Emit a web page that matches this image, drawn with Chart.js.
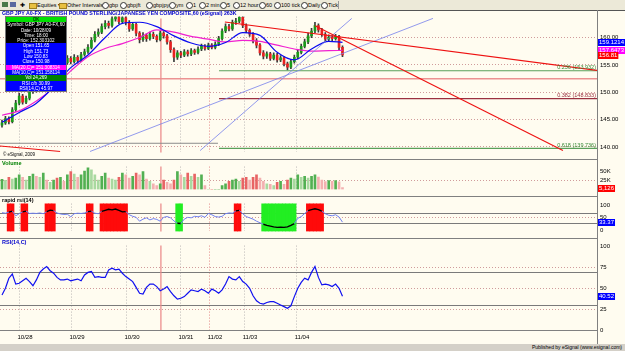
<!DOCTYPE html>
<html>
<head>
<meta charset="utf-8">
<script src="https://cdn.jsdelivr.net/npm/chart.js@4.4.0/dist/chart.umd.min.js"></script>
<style>
body{margin:0;width:625px;height:351px;overflow:hidden;background:#fffcf0;font-family:Arial,"Liberation Sans",sans-serif;position:relative}
canvas{position:absolute;left:0}
.abs{position:absolute;white-space:nowrap}
.sep{position:absolute;background:#808080;z-index:5}
#toolbar{left:0;top:0;width:625px;height:10px;background:#ece9d8;font-size:5.5px;line-height:10px;color:#000}
.ic{position:absolute;top:2px;width:5px;height:5px;border:1px solid #333;border-radius:50%;background:#fff}
.fd{position:absolute;top:2.5px;width:6px;height:4.5px;background:#e8c040;border:0.5px solid #a08020}
#info{left:5px;top:16px;width:60px;border:1px solid #777;z-index:6}
#info div{height:5.3px;line-height:5.3px;font-size:4.6px;text-align:center;color:#fff}
.lbl{font-size:5.5px;z-index:6}
</style>
</head>
<body>
<div id="toolbar" class="abs">
  <span class="abs" style="left:2px;top:2px;width:6px;height:5px;background:#4a7a4a"></span>
  <span class="abs" style="left:10px;top:2px;width:6px;height:5px;background:#5a6aa0"></span>
  <span class="abs" style="left:20px;">✚</span>
  <span class="fd" style="left:29px"></span><span class="abs" style="left:37px;">Equities ▾</span>
  <span class="fd" style="left:59px"></span><span class="abs" style="left:67px;">Other Intervals ▾</span>
  <span class="ic" style="left:102px"></span><span class="abs" style="left:109px;">gbp</span>
  <span class="ic" style="left:120px"></span><span class="abs" style="left:127px;">gbpjft</span>
  <span class="ic" style="left:146px"></span><span class="abs" style="left:153px;">gbpjpy</span>
  <span class="ic" style="left:169px"></span><span class="abs" style="left:176px;">ym</span>
  <span class="ic" style="left:186px"></span><span class="abs" style="left:193px;">1</span>
  <span class="ic" style="left:199px"></span><span class="abs" style="left:206px;">2 min</span>
  <span class="ic" style="left:220px"></span><span class="abs" style="left:227px;">5</span>
  <span class="ic" style="left:233px"></span><span class="abs" style="left:240px;">12 hour</span>
  <span class="ic" style="left:259px"></span><span class="abs" style="left:266px;">60</span>
  <span class="ic" style="left:274px"></span><span class="abs" style="left:281px;">100 tick</span>
  <span class="ic" style="left:301px"></span><span class="abs" style="left:308px;">Daily</span>
  <span class="ic" style="left:321px"></span><span class="abs" style="left:328px;">Tick</span>
  <span class="abs" style="left:338px;top:1px;width:1px;height:8px;background:#999"></span>
</div>

<canvas id="cPrice" width="625" height="149" style="top:10px"></canvas>
<canvas id="cVol" width="625" height="36" style="top:160px"></canvas>
<canvas id="cRapid" width="625" height="41" style="top:197px"></canvas>
<canvas id="cRsi" width="625" height="105" style="top:239px"></canvas>

<div class="sep" style="left:0;top:10px;width:625px;height:1px;background:#555"></div>
<div class="sep" style="left:0;top:159px;width:597px;height:1px"></div>
<div class="sep" style="left:0;top:196px;width:597px;height:1px"></div>
<div class="sep" style="left:0;top:238px;width:597px;height:1px"></div>
<div class="sep" style="left:0;top:330px;width:597px;height:1px"></div>
<div class="sep" style="left:597px;top:10px;width:1px;height:334px"></div>
<div class="abs" style="left:0;top:344px;width:625px;height:7px;background:#d4d0c8;z-index:5"></div>
<div class="abs" style="right:3px;top:344px;font-size:5px;line-height:7px;z-index:6">Published by eSignal (www.esignal.com)</div>

<div class="abs lbl" style="left:2px;top:10px;color:#0000cc;font-weight:bold;font-size:5.3px">GBP JPY A0-FX - BRITISH POUND STERLING/JAPANESE YEN COMPOSITE,60 (eSignal) 263K</div>
<div class="abs lbl" style="left:3px;top:152px;font-size:4.5px">© eSignal, 2009</div>
<div class="abs lbl" style="left:2px;top:160px;color:#008000;font-weight:bold">Volume</div>
<div class="abs lbl" style="left:2px;top:197px;color:#000;font-weight:bold">rapid rsi(14)</div>
<div class="abs lbl" style="left:2px;top:239px;color:#0000cc;font-weight:bold">RSI(14,C)</div>

<div id="info" class="abs">
  <div style="background:#00e000;color:#000">OK</div>
  <div style="background:#000">Symbol: GBP JPY A0-FX,60</div>
  <div style="background:#000">Date: 10/28/09</div>
  <div style="background:#000">Time: 18:00</div>
  <div style="background:#000">Price: 152.303102</div>
  <div style="background:#0000ff">Open 151.65</div>
  <div style="background:#0000ff">High 151.73</div>
  <div style="background:#0000ff">Low 150.83</div>
  <div style="background:#0000ff">Close 150.98</div>
  <div style="background:#ff00ff">MA(20,C)= 151.308314</div>
  <div style="background:#0000ff">MA(10,C)= 151.158114</div>
  <div style="background:#008000">Vol 24,269</div>
  <div style="background:#0000ff">RSI c/b 30.99</div>
  <div style="background:#0000ff">RSI(14,C) 45.97</div>
</div>

<script>
// hourly-ish bars, index 0..99 ; empty space to the right up to xMax
const opens = [144.0,144.4,145.2,144.6,146.8,148.0,149.3,148.2,148.9,150.1,
  151.0,150.4,152.6,153.4,153.0,154.3,155.0,154.6,156.0,155.4,
  156.2,155.6,156.4,155.8,156.9,157.4,158.2,159.5,160.6,161.0,
  162.0,162.6,162.2,163.4,163.8,162.9,163.6,162.8,161.6,162.4,
  160.8,159.6,160.4,159.8,160.6,160.2,159.6,160.8,160.3,159.2,
  157.8,156.4,157.2,156.8,157.4,157.0,157.6,157.3,157.9,158.4,
  158.0,158.6,158.2,158.8,159.8,161.2,162.0,161.6,162.8,163.0,
  163.7,162.2,161.3,160.6,159.4,158.6,157.2,156.6,157.0,156.2,
  156.8,155.9,156.3,155.2,154.6,155.6,156.4,157.3,158.4,159.2,
  160.3,161.2,162.2,161.4,160.6,159.7,160.1,159.8,160.2,158.2];
const closes = [144.4,145.2,144.6,146.8,148.0,149.3,148.2,148.9,150.1,151.0,
  150.4,152.6,153.4,153.0,154.3,155.0,154.6,156.0,155.4,156.2,
  155.6,156.4,155.8,156.9,157.4,158.2,159.5,160.6,161.0,162.0,
  162.6,162.2,163.4,163.8,162.9,163.6,162.8,161.6,162.4,160.8,
  159.6,160.4,159.8,160.6,160.2,159.6,160.8,160.3,159.2,157.8,
  156.4,157.2,156.8,157.4,157.0,157.6,157.3,157.9,158.4,158.0,
  158.6,158.2,158.8,159.8,161.2,162.0,161.6,162.8,163.0,163.7,
  162.2,161.3,160.6,159.4,158.6,157.2,156.6,157.0,156.2,156.8,
  155.9,156.3,155.2,154.6,155.6,156.4,157.3,158.4,159.2,160.3,
  161.2,162.2,161.4,160.6,159.7,160.1,159.8,160.2,158.2,156.81];
const highs = [144.9,145.6,145.5,147.2,148.5,149.8,149.6,149.3,150.5,151.5,
  151.3,153.0,153.9,153.8,154.7,155.5,155.3,156.4,156.3,156.7,
  156.5,156.9,156.7,157.3,157.9,158.7,160.0,161.1,161.6,162.5,
  163.1,163.0,163.9,164.4,164.1,164.0,163.9,163.1,162.8,162.6,
  161.1,160.9,160.7,161.0,161.0,160.5,161.2,161.1,160.6,159.5,
  158.1,157.6,157.5,157.8,157.7,158.0,157.9,158.3,158.8,158.7,
  159.0,158.9,159.2,160.2,161.6,162.5,162.4,163.2,163.5,164.3,
  164.0,162.5,161.6,160.9,159.8,158.9,157.6,157.4,157.3,157.2,
  157.1,156.7,156.5,155.5,156.0,156.8,157.7,158.8,159.7,160.8,
  161.7,162.8,162.5,161.7,160.9,160.5,160.4,160.6,160.4,158.5];
const lows = [143.6,144.1,144.2,144.4,146.5,147.7,147.8,147.9,148.6,149.8,
  150.0,150.2,152.3,152.6,152.8,154.0,154.1,154.4,154.9,155.1,
  155.2,155.3,155.3,155.6,156.6,157.1,157.9,159.2,160.2,160.7,
  161.6,161.7,161.9,163.0,162.5,162.6,162.3,161.1,161.3,160.3,
  159.0,159.3,159.3,159.5,159.8,159.2,159.4,159.9,158.8,157.3,
  155.6,156.0,156.3,156.5,156.6,156.7,156.9,157.0,157.6,157.7,
  157.8,157.9,157.9,158.5,159.5,160.9,161.2,161.3,162.4,162.7,
  161.8,160.9,160.2,159.0,158.1,156.8,156.1,156.2,155.8,155.9,
  155.5,155.6,154.8,154.1,154.3,155.3,156.1,157.0,158.1,158.9,
  160.0,160.9,161.0,160.2,159.3,159.4,159.4,159.5,157.8,156.5];

// moving averages read at every 5th bar
const maIdx = [0,5,10,15,20,25,30,35,40,45,50,55,60,65,70,75,80,85,90,95,99];
const maFast = [144.5,146.3,148.0,151.0,154.5,156.8,160.0,162.6,162.8,162.0,160.3,159.0,158.4,159.1,160.9,160.4,157.3,155.9,157.9,159.3,159.1214];
const maSlow = [145.8,146.6,148.4,150.8,153.9,156.5,158.0,158.9,160.0,161.4,161.0,160.2,159.7,159.2,159.5,159.3,158.6,157.9,157.5,157.6,157.6473];

const volumes = [28600,25600,34000,29000,32000,41000,34000,26000,37000,43000,
  37000,34000,46000,26000,20000,26000,32000,34000,23000,41000,
  50000,43000,34000,41000,52000,61000,55000,41000,26000,37000,
  46000,32000,29000,26000,34000,46000,41000,32000,37000,46000,
  41000,50000,29000,23000,16000,11000,16000,26000,20000,16000,
  26000,50000,41000,34000,46000,37000,43000,34000,41000,11000,
  0,0,0,0,11000,16000,23000,26000,29000,23000,
  32000,34000,26000,34000,41000,32000,23000,16000,14000,11000,
  20000,23000,14000,26000,32000,29000,41000,34000,37000,32000,
  37000,41000,35000,26000,22000,25000,23000,25000,21000,5126];

const rapidRsi = [70,68,72,76,58,66,73,76,67,68,
  67,69,66,74,80,78,69,65,63,64,
  54,66,68,67,69,74,76,68,66,75,
  79,83,81,84,79,73,74,62,56,52,
  37,45,50,42,47,44,37,52,55,50,
  38,29,28,45,52,50,56,54,58,52,
  67,62,55,53,56,66,69,68,77,79,
  66,55,50,45,37,31,25,21,18,15,
  13,14,13,15,21,28,48,55,67,78,
  82,85,82,76,66,60,58,62,53,33.37];

const rsi = [42,50,62,67,55,56,59,62,58,53,
  60,69,73,76,71,68,63,60,60,61,
  59,60,61,59,66,69,70,63,64,63,
  63,72,74,72,73,68,64,61,58,51,
  44,43,51,55,55,52,47,49,52,46,
  41,37,38,40,44,48,47,46,49,47,
  44,49,47,44,48,55,64,61,60,64,
  58,55,50,41,35,32,31,33,34,34,
  32,30,28,26,29,40,50,57,62,60,
  69,76,63,54,55,54,52,55,50,40.52];

const dateLabels = ['10/28','10/29','10/30','10/31','11/02','11/03','11/04'];
const dateIdx = [5.23, 20.35, 36.34, 52.03, 60.47, 70.64, 85.76];
const cursorIdx = 46.2;

const priceTicks = [140, 145, 150, 155, 160];
const volTicks = [25000, 50000];
const rapidTicks = [0, 50, 100];
const rsiTicks = [0, 25, 50, 75, 100];
const bandLevels = [30, 70];

// drawn studies on the price pane: [startIdx, startPrice, endIdx, endPrice]
const redTrends = [[64.8, 162.83, 173, 154.0], [91.0, 162.17, 163.1, 139.33]];
const blueTrends = [[57.6, 139.33, 101.7, 163.5], [25.6, 139.17, 125.3, 163.5]];
const fibRatios = ['0.236', '0.382', '0.618'];
const fibPrices = [153.932, 148.833, 139.736];
const fibStart = 63.1;
const hLineRed = 152.45;
const hLineGray = [-0.58, 140.67, 62.8, 140.67];
const redStub = [-0.58, 140.17, 16.9, 139.17];

const xMin = -0.58, xMax = 173.0;

Chart.defaults.font.family = 'Arial, "Liberation Sans", sans-serif';
Chart.defaults.font.size = 6;
Chart.defaults.color = '#000';
Chart.defaults.animation = false;

const overlay = {
  id: 'overlay',
  beforeDatasetsDraw(chart, args, opts) {
    const { ctx, chartArea: a, scales: { x, y } } = chart;
    ctx.save();
    (opts.bands || []).forEach(b => {
      const py = Math.round(y.getPixelForValue(b)) + 0.5;
      ctx.strokeStyle = '#7a7a7a';
      ctx.lineWidth = 1.2;
      ctx.beginPath(); ctx.moveTo(a.left, py); ctx.lineTo(a.right, py); ctx.stroke();
    });
    const cx = x.getPixelForValue(cursorIdx);
    ctx.strokeStyle = 'rgba(236,140,140,0.85)';
    ctx.lineWidth = 1.5;
    ctx.beginPath(); ctx.moveTo(cx, a.top + (opts.cursorTop || 0)); ctx.lineTo(cx, a.bottom); ctx.stroke();
    ctx.restore();
  },
  afterDatasetsDraw(chart, args, opts) {
    const { ctx, chartArea: a, scales: { y } } = chart;
    ctx.save();
    ctx.font = '5.5px Arial, "Liberation Sans", sans-serif';
    ctx.textBaseline = 'middle';
    (opts.notes || []).forEach(n => {
      ctx.fillStyle = n.color;
      ctx.textAlign = 'right';
      ctx.fillText(n.text, a.right - 1, y.getPixelForValue(n.v) - 3);
    });
    ctx.font = '6px Arial, "Liberation Sans", sans-serif';
    (opts.tags || []).forEach(t => {
      const py = Math.round(y.getPixelForValue(t.v));
      const w = ctx.measureText(t.text).width + 2;
      ctx.fillStyle = t.bg;
      ctx.fillRect(a.right + 1, py - 3, w, 7);
      ctx.fillStyle = t.fg || '#fff';
      ctx.textAlign = 'left';
      ctx.fillText(t.text, a.right + 2, py + 0.5);
    });
    ctx.restore();
  }
};

function xAxis(showLabels) {
  return {
    type: 'linear', min: xMin, max: xMax, offset: false,
    afterBuildTicks: s => { s.ticks = dateIdx.map(v => ({ value: v })); },
    afterFit: s => { s.height = showLabels ? 14 : 0; },
    ticks: { display: showLabels, autoSkip: false, maxRotation: 0, padding: 4, labelOffset: 5,
      callback: (v, i) => dateLabels[i], font: { size: 6 }, color: '#000' },
    grid: { drawTicks: false, offset: false,
      color: c => c.index === 4 ? 'rgba(225,130,130,0.95)' : 'rgba(175,170,170,0.85)' },
    border: { display: false, dash: [1, 2] }
  };
}

function yAxis(min, max, ticks, fmt, gridAt) {
  return {
    position: 'right', min, max,
    afterBuildTicks: s => { s.ticks = ticks.map(v => ({ value: v })); },
    afterFit: s => { s.width = 28; },
    ticks: { callback: fmt, padding: 3, font: { size: 6 }, color: '#000' },
    grid: { drawTicks: false,
      color: c => (gridAt.includes(c.tick.value) ? 'rgba(205,150,150,0.95)' : 'rgba(0,0,0,0)') },
    border: { display: false, dash: [1, 2] }
  };
}

const baseOpts = {
  responsive: false,
  maintainAspectRatio: false,
  layout: { padding: 0 },
  events: [],
  plugins: { legend: { display: false }, tooltip: { enabled: false } }
};

function seg(s, color, width) {
  return { type: 'line', data: [{ x: s[0], y: s[1] }, { x: s[2], y: s[3] }], borderColor: color,
    borderWidth: width, pointRadius: 0, order: 0 };
}

// ---- price pane ----
const wicks = closes.map((c, i) => ({ x: i, y: [lows[i], highs[i]] }));
const bodies = closes.map((c, i) => ({ x: i, y: [Math.min(opens[i], c), Math.max(opens[i], c)] }));
const bodyColors = closes.map((c, i) => c >= opens[i] ? '#1a9a1a' : '#e82020');
const maPts = arr => arr.map((v, k) => ({ x: maIdx[k], y: v }));

const priceSets = [
  ...redTrends.map(s => seg(s, '#ee1111', 1.1)),
  ...blueTrends.map(s => seg(s, 'rgba(120,130,235,0.9)', 0.9)),
  seg([xMin, hLineRed, xMax, hLineRed], 'rgba(235,140,140,0.95)', 1.5),
  seg(hLineGray, '#8c8c8c', 1),
  seg(redStub, '#ee1111', 1),
  ...fibPrices.map((p, k) => seg([fibStart, p, xMax, p], k === 1 ? '#9a3040' : '#5aa05a', 1.2)),
  { type: 'line', data: maPts(maFast), borderColor: '#0a0af0', borderWidth: 1.2, pointRadius: 0,
    cubicInterpolationMode: 'monotone', order: 1 },
  { type: 'line', data: maPts(maSlow), borderColor: '#f020d0', borderWidth: 1.2, pointRadius: 0,
    cubicInterpolationMode: 'monotone', order: 1 },
  { type: 'bar', data: bodies, backgroundColor: bodyColors, barThickness: 2, grouped: false, order: 2 },
  { type: 'bar', data: wicks, backgroundColor: '#3a3a3a', barThickness: 1, grouped: false, order: 3 }
];

new Chart(document.getElementById('cPrice'), {
  type: 'bar',
  data: { datasets: priceSets },
  options: {
    ...baseOpts,
    scales: {
      x: xAxis(false),
      y: yAxis(139.0, 163.83, priceTicks, v => v.toFixed(2), priceTicks)
    },
    plugins: {
      ...baseOpts.plugins,
      overlay: {
        cursorTop: 2,
        notes: fibPrices.map((p, k) => ({ v: p, text: fibRatios[k] + ' (' + p.toFixed(3) + ')',
          color: k === 1 ? '#9a3040' : '#3a8a3a' })),
        tags: [
          { v: maFast[maFast.length - 1], text: maFast[maFast.length - 1].toFixed(4), bg: '#0000ff' },
          { v: maSlow[maSlow.length - 1], text: maSlow[maSlow.length - 1].toFixed(4), bg: '#ff00ff' },
          { v: closes[closes.length - 1], text: closes[closes.length - 1].toFixed(2), bg: '#ff0000' }
        ]
      }
    }
  },
  plugins: [overlay]
});

// ---- volume pane ----
const volColors = volumes.map((v, i) => {
  const up = closes[i] >= opens[i];
  const light = i > 0 && v < volumes[i - 1];
  return up ? (light ? '#a9d9a0' : '#52b052') : (light ? '#f3b0b0' : '#e86464');
});

new Chart(document.getElementById('cVol'), {
  type: 'bar',
  data: { datasets: [{ data: volumes.map((v, i) => ({ x: i, y: v })), backgroundColor: volColors,
    barThickness: 2, grouped: false }] },
  options: {
    ...baseOpts,
    scales: {
      x: xAxis(false),
      y: yAxis(0, 64286, volTicks, v => (v / 1000) + 'K', [25000])
    },
    plugins: {
      ...baseOpts.plugins,
      overlay: { tags: [{ v: volumes[volumes.length - 1], text: volumes[volumes.length - 1].toLocaleString('en-US'), bg: '#ff0000' }] }
    }
  },
  plugins: [overlay]
});

// ---- rapid rsi pane ----
const zoneBars = [];
const zoneColors = [];
rapidRsi.forEach((v, i) => {
  if (v > 70 || v < 30) {
    zoneBars.push({ x: i, y: [-3, 106] });
    zoneColors.push(v > 70 ? '#ff0a0a' : '#22ee22');
  }
});
const outside = (a, b) => (a > 70 && b > 70) || (a < 30 && b < 30);

new Chart(document.getElementById('cRapid'), {
  type: 'bar',
  data: { datasets: [
    { type: 'line', data: rapidRsi.map((v, i) => ({ x: i, y: v })), borderWidth: 1, pointRadius: 0,
      borderColor: '#6f7ff0',
      segment: { borderColor: c => outside(c.p0.parsed.y, c.p1.parsed.y) ? '#000' : '#6f7ff0',
                 borderWidth: c => outside(c.p0.parsed.y, c.p1.parsed.y) ? 1.4 : 1 },
      order: 0 },
    { type: 'bar', data: zoneBars, backgroundColor: zoneColors, barPercentage: 1, categoryPercentage: 1,
      grouped: false, order: 1 }
  ] },
  options: {
    ...baseOpts,
    scales: {
      x: xAxis(false),
      y: yAxis(-2.63, 105.26, rapidTicks, v => String(v), [50])
    },
    plugins: {
      ...baseOpts.plugins,
      overlay: { bands: bandLevels, tags: [{ v: rapidRsi[rapidRsi.length - 1], text: rapidRsi[rapidRsi.length - 1].toFixed(2), bg: '#0000ff' }] }
    }
  },
  plugins: [overlay]
});

// ---- rsi pane ----
new Chart(document.getElementById('cRsi'), {
  type: 'line',
  data: { datasets: [{ data: rsi.map((v, i) => ({ x: i, y: v })), borderColor: '#1010f0', borderWidth: 1.2,
    pointRadius: 0 }] },
  options: {
    ...baseOpts,
    scales: {
      x: xAxis(true),
      y: yAxis(0, 101.1, rsiTicks, v => String(v), [25, 50, 75])
    },
    plugins: {
      ...baseOpts.plugins,
      overlay: { bands: bandLevels, tags: [{ v: rsi[rsi.length - 1], text: rsi[rsi.length - 1].toFixed(2), bg: '#0000ff' }] }
    }
  },
  plugins: [overlay]
});
</script>
</body>
</html>
